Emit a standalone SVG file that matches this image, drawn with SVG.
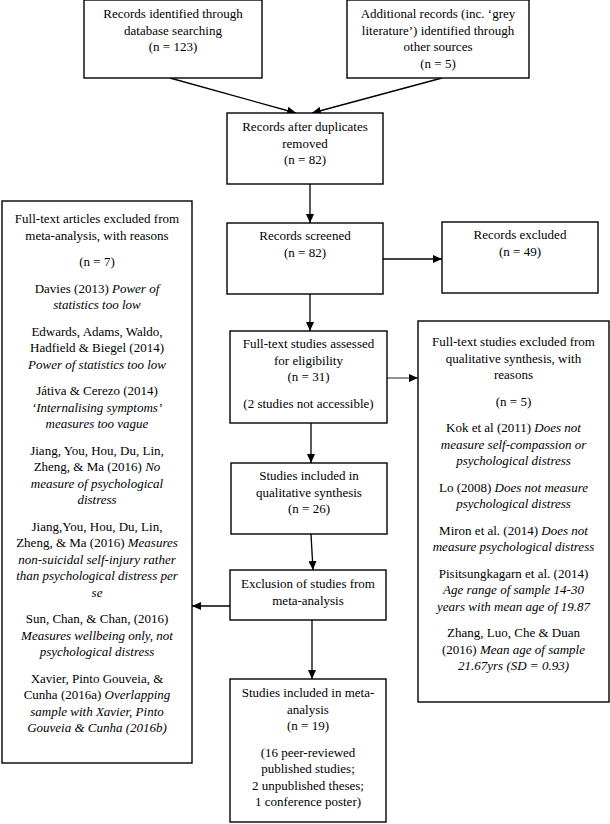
<svg xmlns="http://www.w3.org/2000/svg" width="610" height="824" viewBox="0 0 610 824">
<defs>
<style>
.box{fill:#fff;stroke:#000;stroke-width:1.4}
text{font-family:"Liberation Serif","Times New Roman",serif;font-size:13px;fill:#000;text-anchor:middle}
.i{font-style:italic}
.c{fill:none;stroke:#000;stroke-width:1.3}
</style>
<marker id="ah" markerUnits="userSpaceOnUse" markerWidth="10" markerHeight="8" refX="9" refY="4" orient="auto">
<path d="M0,0 L9,4 L0,8 z" fill="#000"/>
</marker>
</defs>
<rect width="610" height="824" fill="#fff"/>
<g id="connectors">
<line class="c" x1="170" y1="78" x2="296" y2="113" marker-end="url(#ah)"/>
<line class="c" x1="442" y1="78" x2="312" y2="113" marker-end="url(#ah)"/>
<line class="c" x1="310" y1="184" x2="310" y2="223" marker-end="url(#ah)"/>
<line class="c" x1="383" y1="259" x2="442" y2="259" marker-end="url(#ah)"/>
<line class="c" x1="310" y1="294" x2="310" y2="331" marker-end="url(#ah)"/>
<line class="c" x1="387" y1="378" x2="418" y2="378" marker-end="url(#ah)" style="stroke:#555"/>
<line class="c" x1="311" y1="423" x2="311" y2="463" marker-end="url(#ah)"/>
<line class="c" x1="311" y1="534" x2="313" y2="570" marker-end="url(#ah)"/>
<line class="c" x1="230" y1="606" x2="192" y2="606" marker-end="url(#ah)"/>
<line class="c" x1="312" y1="620" x2="312" y2="679" marker-end="url(#ah)"/>
</g>
<g id="n1">
<rect class="box" x="84" y="0" width="178" height="78"/>
<text x="173" y="18">Records identified through</text>
<text x="173" y="34.5">database searching</text>
<text x="173" y="51">(n = 123)</text>
</g>
<g id="n2">
<rect class="box" x="347" y="0" width="182" height="78"/>
<text x="438" y="18">Additional records (inc. ‘grey</text>
<text x="438" y="34.5">literature’) identified through</text>
<text x="438" y="51">other sources</text>
<text x="438" y="67.5">(n = 5)</text>
</g>
<g id="n3">
<rect class="box" x="227" y="113" width="156" height="71"/>
<text x="305" y="131">Records after duplicates</text>
<text x="305" y="147.5">removed</text>
<text x="305" y="164">(n = 82)</text>
</g>
<g id="n4">
<rect class="box" x="227" y="223" width="156" height="71"/>
<text x="305" y="240">Records screened</text>
<text x="305" y="256.5">(n = 82)</text>
</g>
<g id="n5">
<rect class="box" x="442" y="222" width="156" height="71"/>
<text x="520" y="239">Records excluded</text>
<text x="520" y="255.5">(n = 49)</text>
</g>
<g id="n6">
<rect class="box" x="230" y="331" width="157" height="92"/>
<text x="308.5" y="348">Full-text studies assessed</text>
<text x="308.5" y="364.5">for eligibility</text>
<text x="308.5" y="381">(n = 31)</text>
<text x="308.5" y="407.5">(2 studies not accessible)</text>
</g>
<g id="n7">
<rect class="box" x="418" y="321" width="191" height="381"/>
<text x="513.5" y="346">Full-text studies excluded from</text>
<text x="513.5" y="362.5">qualitative synthesis, with</text>
<text x="513.5" y="379">reasons</text>
<text x="513.5" y="405.5">(n = 5)</text>
<text x="513.5" y="432">Kok et al (2011) <tspan class="i">Does not</tspan></text>
<text x="513.5" y="448.5" class="i">measure self-compassion or</text>
<text x="513.5" y="465" class="i">psychological distress</text>
<text x="513.5" y="491.5">Lo (2008) <tspan class="i">Does not measure</tspan></text>
<text x="513.5" y="508" class="i">psychological distress</text>
<text x="513.5" y="534.5">Miron et al. (2014) <tspan class="i">Does not</tspan></text>
<text x="513.5" y="551" class="i">measure psychological distress</text>
<text x="513.5" y="577.5">Pisitsungkagarn et al. (2014)</text>
<text x="513.5" y="594" class="i">Age range of sample 14-30</text>
<text x="513.5" y="610.5" class="i">years with mean age of 19.87</text>
<text x="513.5" y="637">Zhang, Luo, Che &amp; Duan</text>
<text x="513.5" y="653.5">(2016) <tspan class="i">Mean age of sample</tspan></text>
<text x="513.5" y="670" class="i">21.67yrs (SD = 0.93)</text>
</g>
<g id="n8">
<rect class="box" x="231" y="463" width="156" height="71"/>
<text x="309" y="480">Studies included in</text>
<text x="309" y="496.5">qualitative synthesis</text>
<text x="309" y="513">(n = 26)</text>
</g>
<g id="n9">
<rect class="box" x="230" y="570" width="156" height="50"/>
<text x="308" y="588">Exclusion of studies from</text>
<text x="308" y="604.5">meta-analysis</text>
</g>
<g id="n10">
<rect class="box" x="2" y="201" width="190" height="562"/>
<text x="97" y="223">Full-text articles excluded from</text>
<text x="97" y="239.5">meta-analysis, with reasons</text>
<text x="97" y="266">(n = 7)</text>
<text x="97" y="292.5">Davies (2013) <tspan class="i">Power of</tspan></text>
<text x="97" y="309" class="i">statistics too low</text>
<text x="97" y="335.5">Edwards, Adams, Waldo,</text>
<text x="97" y="352">Hadfield &amp; Biegel (2014)</text>
<text x="97" y="368.5" class="i">Power of statistics too low</text>
<text x="97" y="395">Játiva &amp; Cerezo (2014)</text>
<text x="97" y="411.5" class="i">‘Internalising symptoms’</text>
<text x="97" y="428" class="i">measures too vague</text>
<text x="97" y="454.5">Jiang, You, Hou, Du, Lin,</text>
<text x="97" y="471">Zheng, &amp; Ma (2016) <tspan class="i">No</tspan></text>
<text x="97" y="487.5" class="i">measure of psychological</text>
<text x="97" y="504" class="i">distress</text>
<text x="97" y="530.5">Jiang,You, Hou, Du, Lin,</text>
<text x="97" y="547">Zheng, &amp; Ma (2016) <tspan class="i">Measures</tspan></text>
<text x="97" y="563.5" class="i">non-suicidal self-injury rather</text>
<text x="97" y="580" class="i">than psychological distress per</text>
<text x="97" y="596.5" class="i">se</text>
<text x="97" y="623">Sun, Chan, &amp; Chan, (2016)</text>
<text x="97" y="639.5" class="i">Measures wellbeing only, not</text>
<text x="97" y="656" class="i">psychological distress</text>
<text x="97" y="682.5">Xavier, Pinto Gouveia, &amp;</text>
<text x="97" y="699">Cunha (2016a) <tspan class="i">Overlapping</tspan></text>
<text x="97" y="715.5" class="i">sample with Xavier, Pinto</text>
<text x="97" y="732" class="i">Gouveia &amp; Cunha (2016b)</text>
</g>
<g id="n11">
<rect class="box" x="230" y="679" width="156" height="143"/>
<text x="308" y="697">Studies included in meta-</text>
<text x="308" y="713.5">analysis</text>
<text x="308" y="730">(n = 19)</text>
<text x="308" y="756.5">(16 peer-reviewed</text>
<text x="308" y="773">published studies;</text>
<text x="308" y="789.5">2 unpublished theses;</text>
<text x="308" y="806">1 conference poster)</text>
</g>
</svg>
